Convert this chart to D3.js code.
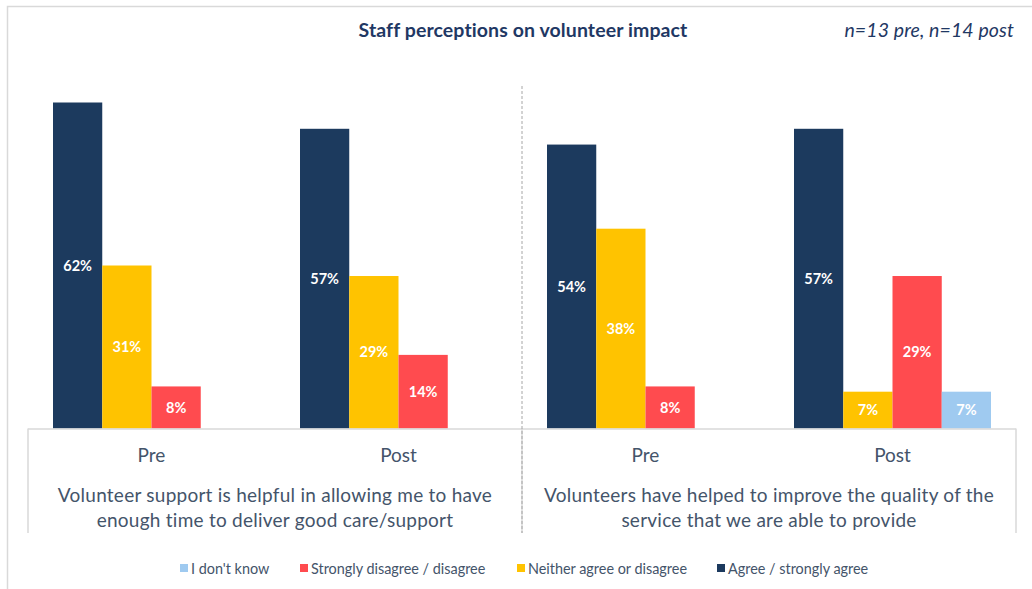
<!DOCTYPE html>
<html>
<head>
<meta charset="utf-8">
<script src="https://cdn.jsdelivr.net/npm/d3@7"></script>
<style>
  html, body { margin: 0; padding: 0; background: #fff; }
  svg { display: block; font-family: "Lato", "Open Sans", sans-serif; }
</style>
</head>
<body>
<svg id="chart" width="1032" height="589"></svg>
<script>
// Questions (two-line group labels) and survey rounds
const questions = [
  ["Volunteer support is helpful in allowing me to have", "enough time to deliver good care/support"],
  ["Volunteers have helped to improve the quality of the", "service that we are able to provide"]
];
const rounds = ["Pre", "Post"];

// Series in drawing order within each cluster
const seriesNames = ["Agree / strongly agree", "Neither agree or disagree", "Strongly disagree / disagree", "I don't know"];
const seriesColors = ["#1C3A5E", "#FFC300", "#FF4B4F", "#9FCAF0"];

// Percentages for Q1-Pre, Q1-Post, Q2-Pre, Q2-Post
const agree    = [62, 57, 54, 57];
const neither  = [31, 29, 38, 7];
const disagree = [8, 14, 8, 29];
const dontKnow = [null, null, null, 7];

// Legend order as shown beneath the chart
const legendOrder = ["I don't know", "Strongly disagree / disagree", "Neither agree or disagree", "Agree / strongly agree"];

const seriesValues = [agree, neither, disagree, dontKnow];

const svg = d3.select("#chart");
const textColor = "#44546A";
const lineColor = "#D9D9D9";

// Outer chart frame
svg.append("path")
  .attr("d", "M7.5,589 V6.5 H1032")
  .attr("fill", "none").attr("stroke", lineColor).attr("stroke-width", 1.5);

// Flattened category keys
const cats = [];
questions.forEach((q, qi) => rounds.forEach((r, ri) => cats.push({ key: qi + "-" + r, q: qi, round: r })));

const plotLeft = 28, plotRight = 1016, baseline = 428.5;

const x0 = d3.scaleBand().domain(cats.map(c => c.key)).range([plotLeft, plotRight]);
const x1 = d3.scaleBand().domain(seriesNames).range([25, x0.bandwidth() - 25]);
const y = d3.scaleLinear().domain([0, 62]).range([baseline, 102.5]);

// Bars
const barData = [];
cats.forEach((c, ci) => {
  seriesNames.forEach((s, si) => {
    const v = seriesValues[si][ci];
    if (v != null) barData.push({ cat: c.key, series: s, color: seriesColors[si], value: v });
  });
});

const bars = svg.append("g");
bars.selectAll("rect").data(barData).join("rect")
  .attr("x", d => x0(d.cat) + x1(d.series))
  .attr("y", d => y(d.value))
  .attr("width", x1.bandwidth())
  .attr("height", d => y(0) - y(d.value))
  .attr("fill", d => d.color);

bars.selectAll("text").data(barData).join("text")
  .attr("x", d => x0(d.cat) + x1(d.series) + x1.bandwidth() / 2)
  .attr("y", d => (y(d.value) + y(0)) / 2)
  .attr("dy", "0.35em")
  .attr("text-anchor", "middle")
  .attr("fill", "#fff")
  .attr("font-weight", "bold")
  .attr("font-size", 14.5)
  .text(d => d.value + "%");

// Multi-level category axis
const axisG = svg.append("g");
axisG.append("line")
  .attr("x1", plotLeft).attr("x2", plotRight)
  .attr("y1", baseline + 0.5).attr("y2", baseline + 0.5)
  .attr("stroke", lineColor).attr("stroke-width", 1.5);

const groupEdges = [plotLeft, x0(cats[2].key), plotRight];
axisG.selectAll("line.edge").data(groupEdges).join("line")
  .attr("class", "edge")
  .attr("x1", d => d).attr("x2", d => d)
  .attr("y1", baseline).attr("y2", 533)
  .attr("stroke", lineColor).attr("stroke-width", 1.5);

// Round labels
axisG.selectAll("text.round").data(cats).join("text")
  .attr("class", "round")
  .attr("x", d => x0(d.key) + x0.bandwidth() / 2)
  .attr("y", 462)
  .attr("text-anchor", "middle")
  .attr("fill", textColor)
  .attr("font-size", 19)
  .text(d => d.round);

// Question labels
questions.forEach((q, qi) => {
  const cx = (groupEdges[qi] + groupEdges[qi + 1]) / 2;
  const t = axisG.append("text")
    .attr("text-anchor", "middle")
    .attr("fill", textColor)
    .attr("font-size", 19)
    .attr("letter-spacing", 0.25);
  q.forEach((line, li) => {
    t.append("tspan").attr("x", cx).attr("y", 502 + li * 25).text(line);
  });
});

// Dashed divider between the two questions
svg.append("line")
  .attr("x1", groupEdges[1]).attr("x2", groupEdges[1])
  .attr("y1", 86).attr("y2", 533)
  .attr("stroke", "#A6A6A6").attr("stroke-width", 1)
  .attr("stroke-dasharray", "3,2");

// Title and sample-size note
svg.append("text")
  .attr("x", 523).attr("y", 37)
  .attr("text-anchor", "middle")
  .attr("fill", "#1F3864")
  .attr("font-weight", "bold")
  .attr("font-size", 19.5)
  .attr("letter-spacing", 0.1)
  .text("Staff perceptions on volunteer impact");

svg.append("text")
  .attr("x", 1014).attr("y", 37)
  .attr("text-anchor", "end")
  .attr("fill", "#1F3864")
  .attr("font-style", "italic")
  .attr("font-size", 19.5)
  .attr("letter-spacing", 0.1)
  .text("n=13 pre, n=14 post");

// Legend
const legendX = [180, 300, 517, 717];
const legend = svg.append("g");
legendOrder.forEach((name, i) => {
  const color = seriesColors[seriesNames.indexOf(name)];
  legend.append("rect")
    .attr("x", legendX[i]).attr("y", 564)
    .attr("width", 8).attr("height", 8)
    .attr("fill", color);
  legend.append("text")
    .attr("x", legendX[i] + 11).attr("y", 573.5)
    .attr("fill", textColor)
    .attr("font-size", 14.4)
    .text(name);
});
</script>
</body>
</html>
